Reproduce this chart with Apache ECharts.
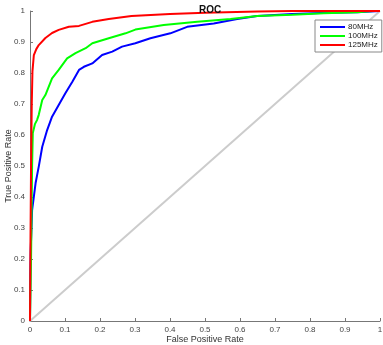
<!DOCTYPE html>
<html>
<head>
	<meta charset="utf-8" />
	<title>ROC</title>
	<style type="text/css">
		html, body { margin: 0; padding: 0; background: #fff; }
		#main { width: 383px; height: 345px; }
	</style>
	<script src="https://cdn.jsdelivr.net/npm/echarts@6.0.0/dist/echarts.min.js"></script>
</head>
<body>
	<div id="main"></div>
	<script type="text/javascript">
		// [false positive rate, true positive rate]
		const roc80 = [
			[0, 0], [0.001, 0.15], [0.002, 0.23], [0.004, 0.29], [0.006, 0.358], [0.016, 0.445],
			[0.025, 0.498], [0.035, 0.562], [0.049, 0.616], [0.063, 0.659], [0.082, 0.697],
			[0.101, 0.735], [0.121, 0.772], [0.14, 0.81], [0.154, 0.82], [0.178, 0.831],
			[0.206, 0.858], [0.235, 0.869], [0.263, 0.885], [0.301, 0.896], [0.344, 0.912],
			[0.401, 0.928], [0.449, 0.949], [0.525, 0.96], [0.592, 0.974], [0.649, 0.984],
			[0.75, 0.99], [0.85, 0.994], [0.935, 0.996], [1, 1]
		];
		const roc100 = [
			[0, 0], [0.003, 0.2], [0.005, 0.4], [0.006, 0.5], [0.008, 0.606], [0.014, 0.635],
			[0.02, 0.648], [0.025, 0.665], [0.035, 0.713], [0.044, 0.729], [0.063, 0.783],
			[0.082, 0.81], [0.106, 0.847], [0.13, 0.864], [0.159, 0.88], [0.178, 0.896],
			[0.225, 0.912], [0.273, 0.928], [0.301, 0.94], [0.382, 0.955], [0.478, 0.965],
			[0.573, 0.974], [0.649, 0.984], [0.75, 0.988], [0.839, 0.993], [0.935, 0.996],
			[0.98, 1], [1, 1]
		];
		const roc125 = [
			[0, 0], [0.001, 0.2], [0.003, 0.5], [0.005, 0.7], [0.007, 0.805], [0.011, 0.858],
			[0.018, 0.877], [0.025, 0.89], [0.044, 0.913], [0.063, 0.929], [0.082, 0.939],
			[0.111, 0.949], [0.14, 0.952], [0.178, 0.965], [0.225, 0.974], [0.29, 0.984],
			[0.4, 0.99], [0.5, 0.994], [0.65, 0.998], [0.75, 1], [1, 1]
		];
		const chance = [[0, 0], [1, 1]];
		const seriesNames = ['80MHz', '100MHz', '125MHz'];

		const axisStyle = {
			type: 'value',
			min: 0,
			max: 1,
			interval: 0.1,
			nameLocation: 'middle',
			nameMoveOverlap: false,
			nameTextStyle: { color: '#333', fontSize: 9, fontFamily: 'Liberation Sans' },
			axisLine: { show: true, lineStyle: { color: '#777', width: 1 } },
			axisTick: { show: true, inside: true, length: 3, lineStyle: { color: '#777' } },
			axisLabel: { color: '#444', fontSize: 8, fontFamily: 'Liberation Sans', margin: 5 },
			splitLine: { show: false }
		};

		const options = {
			animation: false,
			title: {
				text: 'ROC',
				left: 194,
				top: 0,
				textStyle: { fontSize: 10, fontWeight: 'bold', color: '#111', fontFamily: 'Liberation Sans' }
			},
			grid: { left: 30, right: 3, top: 11, bottom: 24, outerBoundsMode: 'none', containLabel: false },
			legend: {
				data: seriesNames,
				orient: 'vertical',
				left: 315,
				top: 20,
				padding: [3, 4, 3, 5],
				itemGap: 1,
				itemWidth: 25,
				itemHeight: 2,
				icon: 'rect',
				backgroundColor: '#fff',
				borderColor: '#888',
				borderWidth: 1,
				borderRadius: 0,
				textStyle: { fontSize: 8, color: '#222', fontFamily: 'Liberation Sans', padding: [0, 0, 0, -2] }
			},
			xAxis: Object.assign({}, axisStyle, { name: 'False Positive Rate', nameGap: 14 }),
			yAxis: Object.assign({}, axisStyle, { name: 'True Positive Rate', nameGap: 17 }),
			series: [
				{
					name: 'chance',
					type: 'line',
					data: chance,
					symbol: 'none',
					lineStyle: { color: '#cccccc', width: 2 },
					z: 1
				},
				{
					name: seriesNames[0],
					type: 'line',
					data: roc80,
					symbol: 'none',
					color: '#0000ff',
					lineStyle: { color: '#0000ff', width: 2 }
				},
				{
					name: seriesNames[1],
					type: 'line',
					data: roc100,
					symbol: 'none',
					color: '#00ff00',
					lineStyle: { color: '#00ff00', width: 2 }
				},
				{
					name: seriesNames[2],
					type: 'line',
					data: roc125,
					symbol: 'none',
					color: '#ff0000',
					lineStyle: { color: '#ff0000', width: 2 }
				}
			]
		};
		const myChart = echarts.init(document.getElementById('main'));
		myChart.setOption(options);
	</script>
</body>
</html>
